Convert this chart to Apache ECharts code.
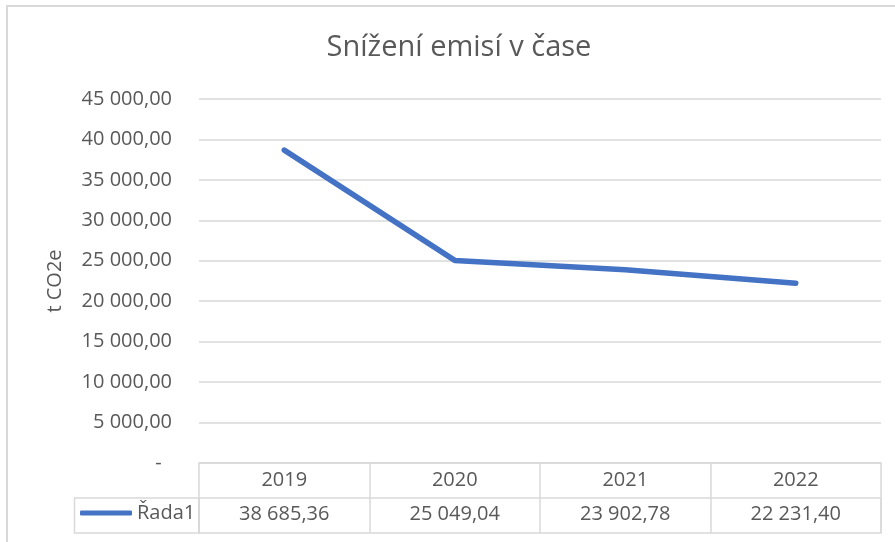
<!DOCTYPE html>
<html>
<head>
<meta charset="utf-8">
<script src="https://cdn.jsdelivr.net/npm/echarts@6/dist/echarts.min.js"></script>
<style>
html,body{margin:0;padding:0;background:#fff;}
#chart{width:895px;height:542px;}
</style>
</head>
<body>
<div id="chart"></div>
<script>
var titleText = 'Snížení emisí v čase';
var yAxisName = 't CO2e';
var seriesName = 'Řada1';
var categories = ['2019', '2020', '2021', '2022'];
var values = [38685.36, 25049.04, 23902.78, 22231.40];
var yMin = 0, yMax = 45000, yStep = 5000;

var FONT = '"Open Sans", "Noto Sans", sans-serif';
var TXT = '#595959';
var LINE = '#d9d9d9';
var BLUE = '#4472C4';

function fmt(n, dec) {
  var s = n.toFixed(dec);
  var parts = s.split('.');
  var intPart = parts[0].replace(/\B(?=(\d{3})+(?!\d))/g, ' ');
  return parts.length > 1 ? intPart + ',' + parts[1] : intPart;
}

var chart = echarts.init(document.getElementById('chart'), null, {renderer: 'canvas'});
var gridLeft = 199, gridRight = 14;
chart.setOption({
  animation: false,
  backgroundColor: '#fff',
  textStyle: {fontFamily: FONT},
  title: {
    text: titleText,
    left: 454, top: 28, textAlign: 'center',
    textStyle: {fontFamily: FONT, fontSize: 29, fontWeight: 'normal', color: TXT}
  },
  legend: {
    data: [{name: seriesName, icon: 'roundRect'}],
    left: 80, top: 503,
    itemWidth: 52, itemHeight: 5,
    textStyle: {fontFamily: FONT, fontSize: 20, color: TXT, padding: [0, 0, 0, 0]},
    itemGap: 0, padding: 0, selectedMode: false
  },
  grid: [
    {left: gridLeft, right: gridRight, top: 99, bottom: 542 - 463},
    {left: gridLeft, right: gridRight, top: 498, height: 35, show: true, borderColor: LINE, borderWidth: 1.5}
  ],
  xAxis: [
    {
      type: 'category', gridIndex: 0, data: categories, boundaryGap: true,
      axisLine: {show: true, lineStyle: {color: LINE, width: 1.5}},
      axisTick: {show: true, length: 35, lineStyle: {color: LINE, width: 1.5}},
      axisLabel: {fontFamily: FONT, fontSize: 20, color: TXT, margin: 7}
    },
    {
      type: 'category', gridIndex: 1, data: categories, boundaryGap: true, position: 'top',
      axisLine: {show: false}, axisTick: {show: false},
      splitLine: {show: true, lineStyle: {color: LINE, width: 1.5}},
      axisLabel: {inside: true, margin: 6, fontFamily: FONT, fontSize: 20, color: TXT,
        formatter: function (v, i) { return fmt(values[i], 2); }}
    }
  ],
  yAxis: [
    {
      type: 'value', gridIndex: 0, min: yMin, max: yMax, interval: yStep,
      name: yAxisName, nameLocation: 'middle', nameRotate: 90, nameGap: 134,
      nameTextStyle: {fontFamily: FONT, fontSize: 20, color: TXT},
      axisLine: {show: false}, axisTick: {show: false},
      splitLine: {show: true, lineStyle: {color: LINE, width: 1.5}},
      axisLabel: {fontFamily: FONT, fontSize: 20, color: TXT, margin: 27,
        formatter: function (v) { return v === 0 ? '-  ' : fmt(v, 2); }}
    },
    {type: 'value', gridIndex: 1, min: 0, max: 1, show: false}
  ],
  series: [
    {
      name: seriesName, type: 'line', xAxisIndex: 0, yAxisIndex: 0,
      data: values, showSymbol: false, symbol: 'none',
      lineStyle: {color: BLUE, width: 5.5, cap: 'round', join: 'round'},
      itemStyle: {color: BLUE}
    }
  ],
  graphic: [
    {type: 'polyline', silent: true, shape: {points: [[7, 542], [7, 6], [895, 6]]},
     style: {stroke: LINE, lineWidth: 2, fill: null}},
    {type: 'rect', silent: true, shape: {x: 74.5, y: 498, width: gridLeft - 74.5, height: 35},
     style: {stroke: LINE, lineWidth: 1.5, fill: null}}
  ]
});
</script>
</body>
</html>
